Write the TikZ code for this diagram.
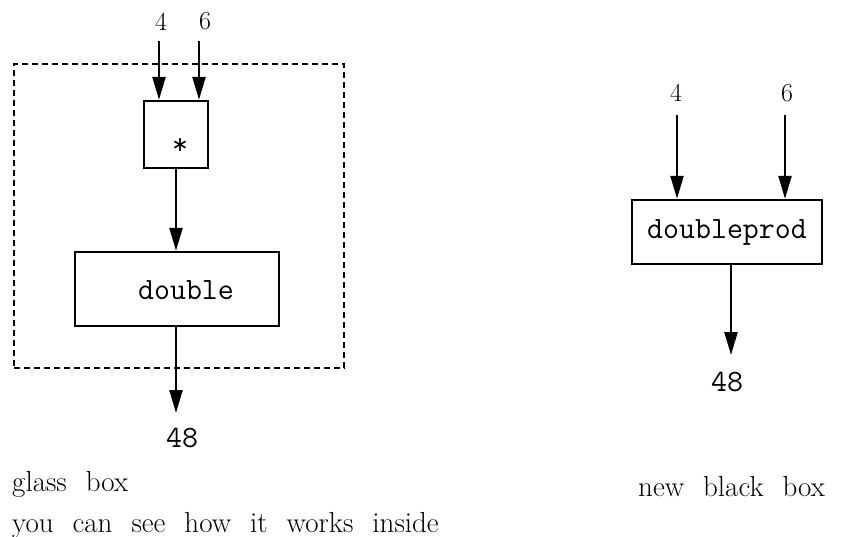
\documentclass[tikz,border=0pt]{standalone}
\usepackage{fontspec}
\usetikzlibrary{arrows.meta}
% caption font: large serif with wide word spaces
\newcommand\capfont{\fontsize{29}{35}\selectfont\spaceskip19pt\relax}
\begin{document}
\begin{tikzpicture}[x=1pt,y=-1pt,
  wire/.style={line width=2.4pt,-{Triangle[length=23pt,width=13pt]}},
  block/.style={draw,line width=2.4pt,inner sep=0pt},
  code/.style={inner sep=0pt,font=\ttfamily\fontsize{31}{36}\selectfont},
  num/.style={inner sep=0pt,font=\fontsize{26}{30}\selectfont},
  caption/.style={inner sep=0pt,anchor=base west,font=\capfont},
  glassframe/.style={draw,line width=2.4pt,dash pattern=on 6pt off 4pt,inner sep=0pt}]
\useasboundingbox (0,0) rectangle (845,537);

% ---- glass box: the inside of doubleprod is visible ----
\node[glassframe,minimum width=330pt,minimum height=304pt] (glass) at (179,216) {};

\node[block,minimum width=64pt,minimum height=67pt] (mul) at (176,134.5) {};
\node[code,anchor=base] (mulsign) at (180,155) {*};
\node[block,minimum width=204pt,minimum height=74pt] (dbl) at (177,289) {};
\node[code] (dbltext) at (186,290) {double};

\node[num] (lab4) at (161,21.5) {4};
\node[num] (lab6) at (205,21.5) {6};
\coordinate (src4) at (159,41);
\coordinate (src6) at (199,41);
\coordinate (sink1) at (176,413);

\draw[wire] (src4) -- (src4 |- mul.north);
\draw[wire] (src6) -- (src6 |- mul.north);
\draw[wire] (mul.south) -- (mul.south |- dbl.north);
\draw[wire] (sink1 |- dbl.south) -- (sink1);
\node[code] (res1) at (182,438) {48};

% ---- the same function as a new black box ----
\node[num] (lab4b) at (676,93) {4};
\node[num] (lab6b) at (787,93) {6};
\coordinate (src4b) at (677,115);
\coordinate (src6b) at (785,115);
\node[block,code,minimum width=190pt,minimum height=64pt] (dp) at (727,232) {doubleprod};
\coordinate (sink2) at (731,355);

\draw[wire] (src4b) -- (src4b |- dp.north);
\draw[wire] (src6b) -- (src6b |- dp.north);
\draw[wire] (sink2 |- dp.south) -- (sink2);
\node[code] (res2) at (727,382) {48};

% ---- captions ----
\node[caption] (cap1) at (12,491) {glass box};
\node[caption] (cap2) at (12,532) {you can see how it works inside};
\node[caption] (cap3) at (638,496) {new black box};
\end{tikzpicture}
\end{document}
